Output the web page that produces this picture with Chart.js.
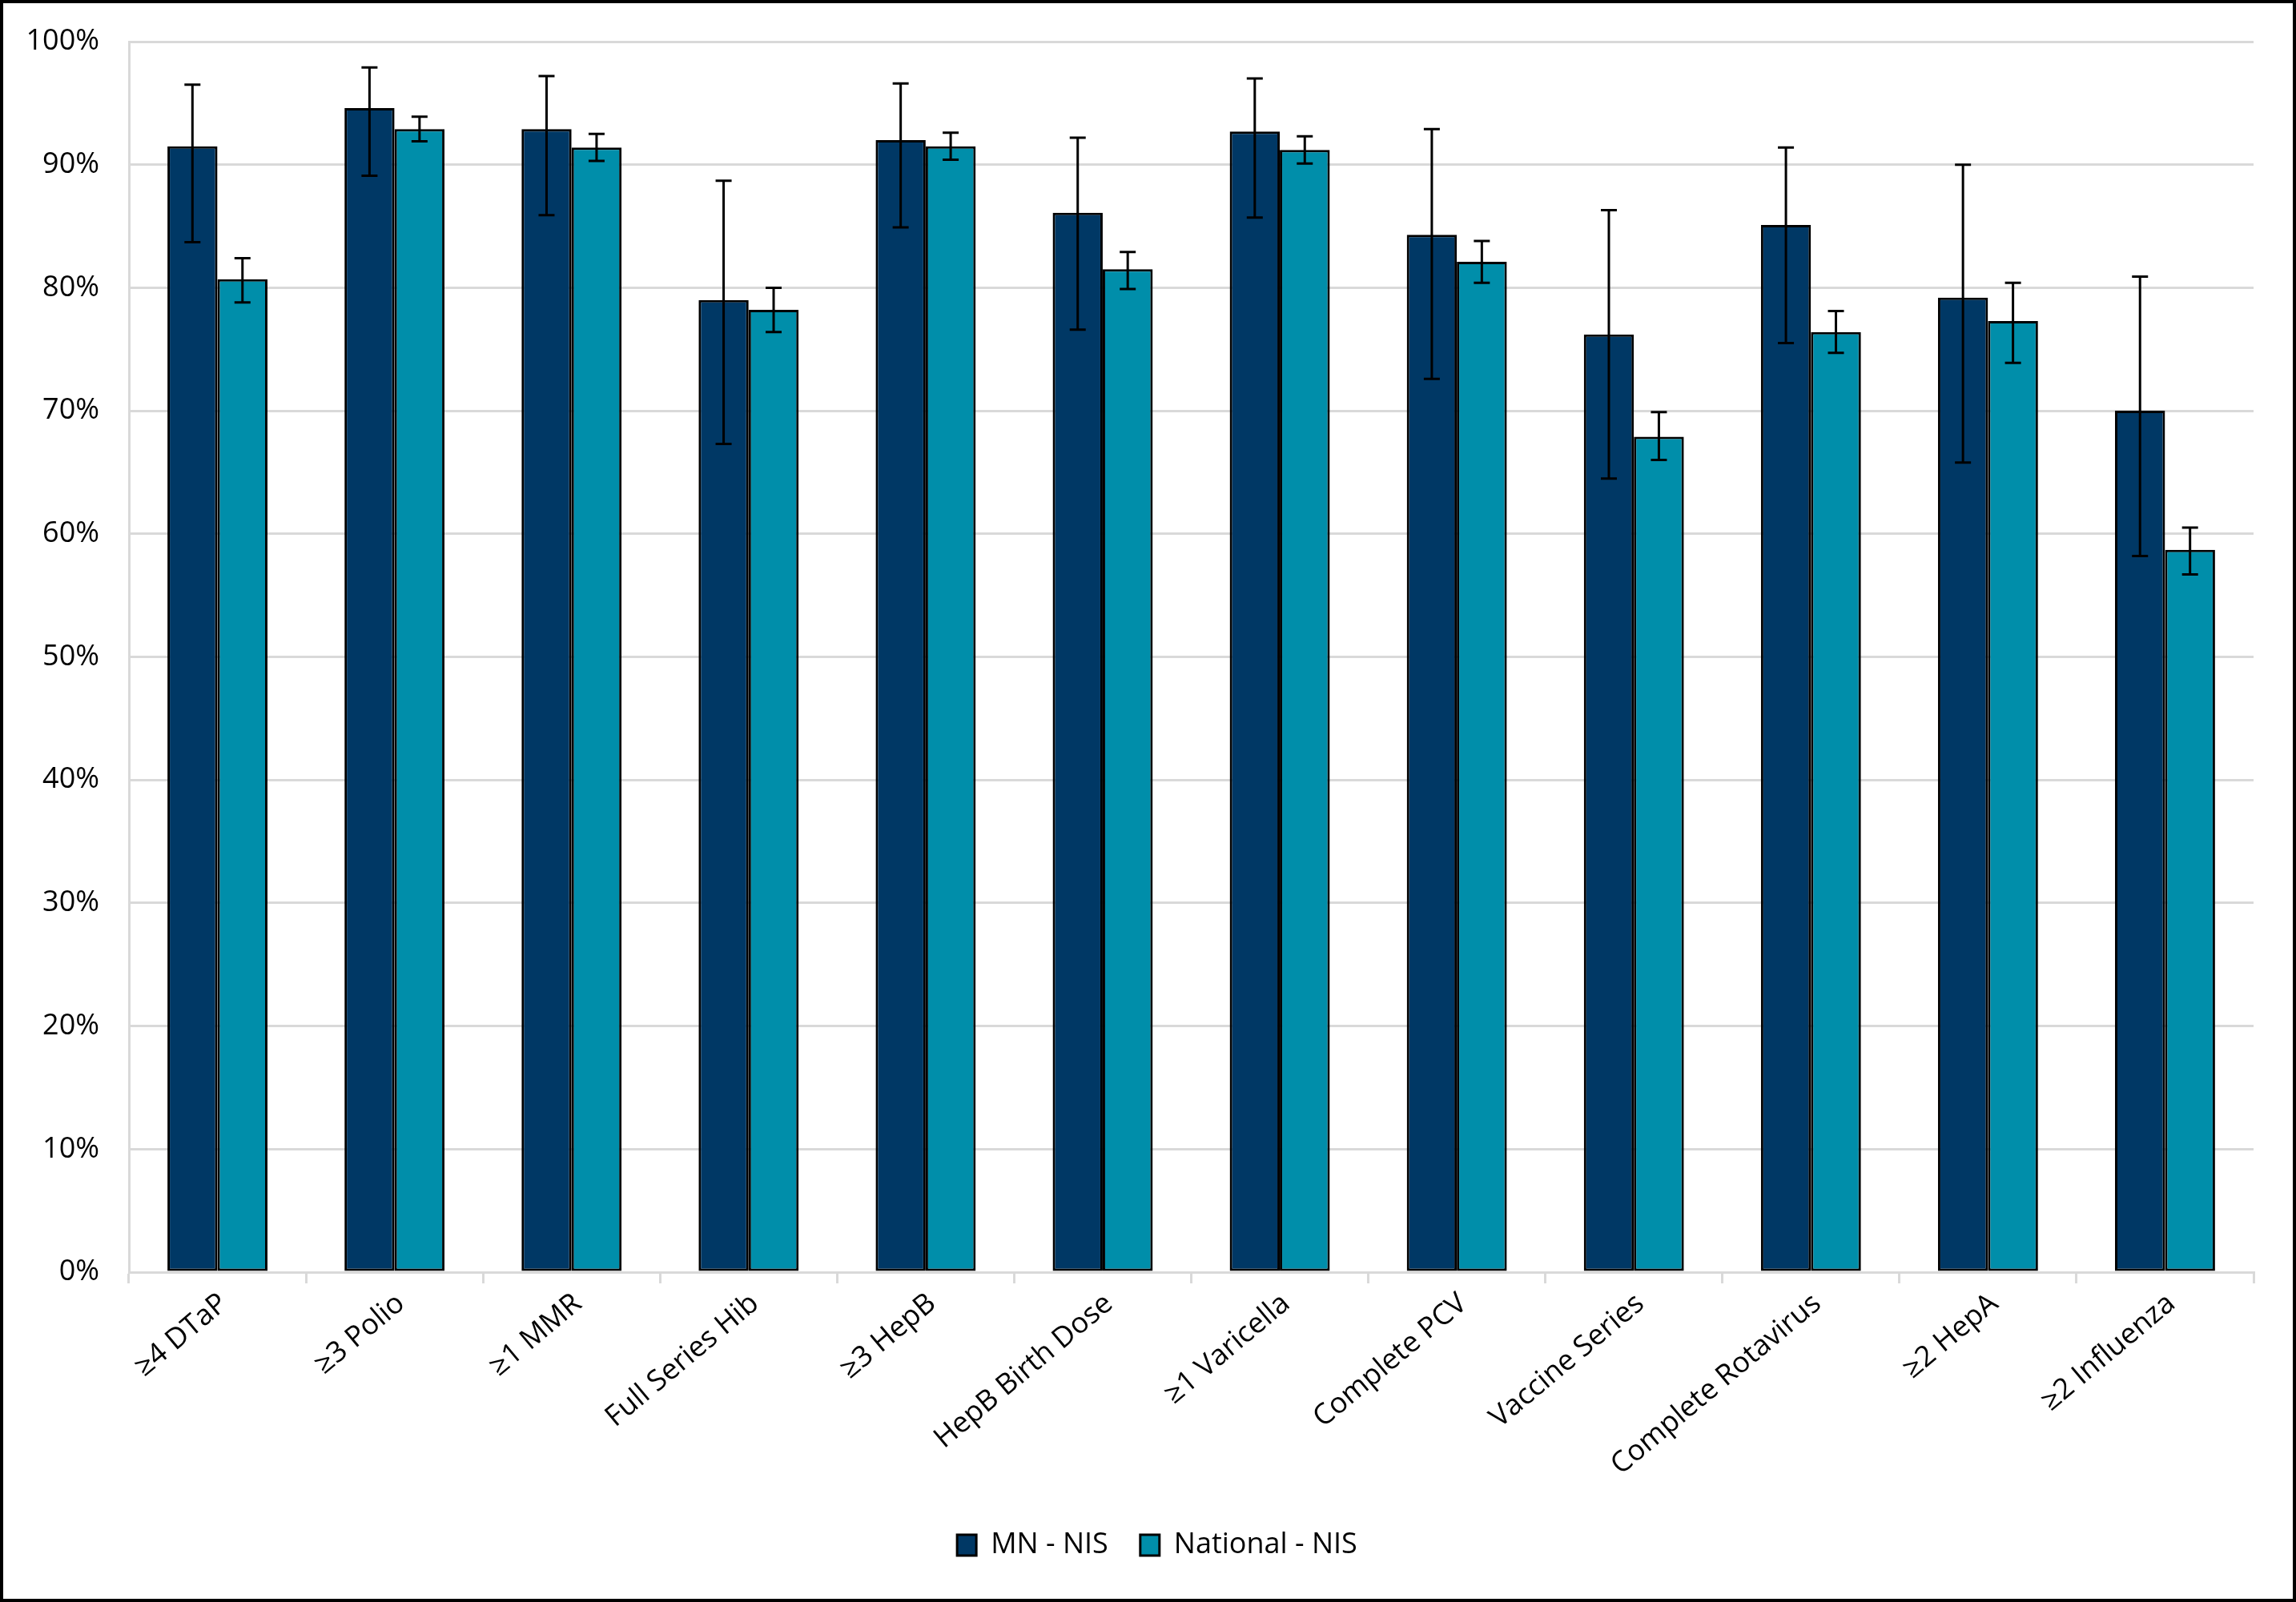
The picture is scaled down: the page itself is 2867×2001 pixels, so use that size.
<!DOCTYPE html>
<html>
<head>
<meta charset="utf-8">
<script src="https://cdn.jsdelivr.net/npm/chart.js@4.4.1/dist/chart.umd.min.js"></script>
<style>
  html, body { margin: 0; padding: 0; background: #fff; overflow: hidden; }
  #wrap { width: 2859px; height: 1993px; border: 4px solid #000; background: #fff; }
  canvas { display: block; }
</style>
</head>
<body>
<div id="wrap"><canvas id="chart" width="2859" height="1993"></canvas></div>
<script>
const categories = [
  "≥4 DTaP", "≥3 Polio", "≥1 MMR", "Full Series Hib", "≥3 HepB", "HepB Birth Dose",
  "≥1 Varicella", "Complete PCV", "Vaccine Series", "Complete Rotavirus", "≥2 HepA", "≥2 Influenza",
];
const mnValues = [91.5, 94.6, 92.9, 79.0, 92.0, 86.1, 92.7, 84.3, 76.2, 85.1, 79.2, 70.0];
const mnLow = [83.7, 89.1, 85.9, 67.3, 84.9, 76.6, 85.7, 72.6, 64.5, 75.5, 65.8, 58.2];
const mnHigh = [96.5, 97.9, 97.2, 88.7, 96.6, 92.2, 97.0, 92.9, 86.3, 91.4, 90.0, 80.9];
const natValues = [80.7, 92.9, 91.4, 78.2, 91.5, 81.5, 91.2, 82.1, 67.9, 76.4, 77.3, 58.7];
const natLow = [78.8, 91.9, 90.3, 76.4, 90.4, 79.9, 90.1, 80.4, 66.0, 74.7, 73.9, 56.7];
const natHigh = [82.4, 93.9, 92.5, 80.0, 92.6, 82.9, 92.3, 83.8, 69.9, 78.1, 80.4, 60.5];
const yTicks = [0, 10, 20, 30, 40, 50, 60, 70, 80, 90, 100];

const FONT = "'Open Sans', Lato, sans-serif";
const errorRanges = [[mnLow, mnHigh], [natLow, natHigh]];

const errorBars = {
  id: "errorBars",
  afterDatasetsDraw(chart) {
    const ctx = chart.ctx;
    const y = chart.scales.y;
    ctx.save();
    ctx.strokeStyle = "#000";
    ctx.lineWidth = 3;
    errorRanges.forEach(([low, high], di) => {
      const meta = chart.getDatasetMeta(di);
      meta.data.forEach((bar, i) => {
        const yl = y.getPixelForValue(low[i]);
        const yh = y.getPixelForValue(high[i]);
        ctx.beginPath();
        ctx.moveTo(bar.x, yl);
        ctx.lineTo(bar.x, yh);
        ctx.moveTo(bar.x - 10, yl);
        ctx.lineTo(bar.x + 10, yl);
        ctx.moveTo(bar.x - 10, yh);
        ctx.lineTo(bar.x + 10, yh);
        ctx.stroke();
      });
    });
    ctx.restore();
  },
};

// nudge the legend a little right, as in the original
const legendShift = {
  id: "legendShift",
  afterLayout(chart) {
    chart.legend.left += 36;
    chart.legend.right += 36;
  },
};

new Chart(document.getElementById("chart"), {
  type: "bar",
  data: {
    labels: categories,
    datasets: [
      {
        label: "MN - NIS",
        data: mnValues,
        backgroundColor: "#003865",
        borderColor: "#000",
        borderWidth: 3,
        borderSkipped: false,
        barPercentage: 1,
        categoryPercentage: 0.565,
      },
      {
        label: "National - NIS",
        data: natValues,
        backgroundColor: "#008EAA",
        borderColor: "#000",
        borderWidth: 3,
        borderSkipped: false,
        barPercentage: 1,
        categoryPercentage: 0.565,
      },
    ],
  },
  options: {
    responsive: false,
    animation: false,
    layout: { padding: { top: 48, right: 49, bottom: 39, left: 0 } },
    plugins: {
      legend: {
        position: "bottom",
        labels: {
          font: { family: FONT, size: 36 },
          color: "#000",
          boxWidth: 24,
          boxHeight: 26,
          padding: 40,
        },
      },
      tooltip: { enabled: false },
    },
    scales: {
      x: {
        grid: {
          offset: true,
          drawOnChartArea: false,
          color: "#d9d9d9",
          lineWidth: 3,
          tickLength: 14,
        },
        border: { color: "#d9d9d9", width: 3 },
        ticks: {
          font: { family: FONT, size: 36 },
          color: "#000",
          minRotation: 40,
          maxRotation: 40,
          autoSkip: false,
          padding: 4,
          labelOffset: 8,
        },
        afterFit(scale) { scale.height = 283; },
      },
      y: {
        min: 0,
        max: 100,
        afterBuildTicks(scale) { scale.ticks = yTicks.map((v) => ({ value: v })); },
        grid: { color: "#d9d9d9", lineWidth: 3, drawTicks: true, tickLength: 33, tickColor: "rgba(0,0,0,0)" },
        border: { color: "#d9d9d9", width: 3 },
        ticks: {
          font: { family: FONT, size: 36 },
          color: "#000",
          padding: 4,
          callback: (v) => v + "%",
        },
        afterFit(scale) { scale.width = 157; },
      },
    },
  },
  plugins: [errorBars, legendShift],
});
</script>
</body>
</html>
